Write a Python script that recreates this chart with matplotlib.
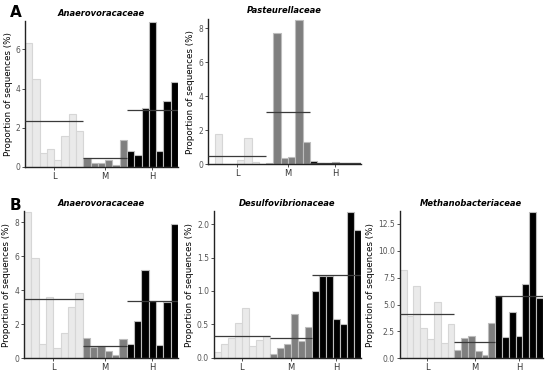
import matplotlib.pyplot as plt

# group sizes: L, M, H
groups = ["L", "M", "H"]
n_per_group = [8, 6, 7]

# panel A
anaero_a = [6.3, 4.5, 0.7, 0.9, 0.35, 1.6, 2.7, 1.85,
            0.45, 0.22, 0.18, 0.35, 0.12, 1.4,
            0.8, 0.6, 3.0, 7.4, 0.8, 3.35, 4.35]
pasteur_a = [0.05, 1.8, 0.02, 0.02, 0.25, 1.55, 0.12, 0.05,
             0.08, 7.7, 0.35, 0.42, 8.5, 1.3,
             0.18, 0.08, 0.05, 0.15, 0.1, 0.08, 0.08]

# panel B
anaero_b = [8.6, 5.9, 0.8, 3.6, 0.6, 1.5, 3.0, 3.8,
            1.2, 0.65, 0.7, 0.4, 0.2, 1.1,
            0.85, 2.15, 5.2, 3.35, 0.75, 3.3, 7.9]
desulfo_b = [0.08, 0.2, 0.3, 0.52, 0.74, 0.18, 0.27, 0.32,
             0.05, 0.14, 0.2, 0.66, 0.25, 0.46,
             1.0, 1.23, 1.23, 0.58, 0.51, 2.18, 1.92]
methano_b = [8.2, 3.9, 6.75, 2.85, 1.8, 5.2, 1.4, 3.2,
             0.8, 1.85, 2.1, 0.65, 0.3, 3.3,
             5.75, 1.95, 4.3, 2.05, 6.9, 13.6, 5.6]

# group means (horizontal lines)
means_anaero_a = [2.35, 0.45, 2.9]
means_pasteur_a = [0.5, 3.05, 0.1]
means_anaero_b = [3.45, 0.7, 3.35]
means_desulfo_b = [0.33, 0.29, 1.24]
means_methano_b = [4.15, 1.5, 5.75]

colores = ["#eaeaea", "#7f7f7f", "#000000"]
bordes = ["#d6d6d6", "#bdbdbd", "#bdbdbd"]

paneles = [
    ("Anaerovoracaceae", anaero_a, means_anaero_a, [0, 2, 4, 6], "{:.0f}",
     [0.0455, 0.55, 0.278, 0.393]),
    ("Pasteurellaceae", pasteur_a, means_pasteur_a, [0, 2, 4, 6, 8], "{:.0f}",
     [0.378, 0.557, 0.278, 0.392]),
    ("Anaerovoracaceae", anaero_b, means_anaero_b, [0, 2, 4, 6, 8], "{:.0f}",
     [0.0436, 0.035, 0.28, 0.396]),
    ("Desulfovibrionaceae", desulfo_b, means_desulfo_b, [0, 0.5, 1.0, 1.5, 2.0], "{:.1f}",
     [0.389, 0.036, 0.267, 0.394]),
    ("Methanobacteriaceae", methano_b, means_methano_b, [0, 2.5, 5.0, 7.5, 10.0, 12.5], "{:.1f}",
     [0.727, 0.034, 0.26, 0.397]),
]

fig = plt.figure(figsize=(5.5, 3.71), dpi=100)

for titulo, valores, medias, yticks, fmt, pos in paneles:
    ax = fig.add_axes(pos)
    x = 0
    centros = []
    for g, n in enumerate(n_per_group):
        xs = list(range(x, x + n))
        ax.bar(xs, valores[x:x + n], width=1.0, color=colores[g],
               edgecolor=bordes[g], linewidth=0.8)
        ax.hlines(medias[g], x - 0.5, x + n - 0.5, color="#3a3a3a", linewidth=0.9, zorder=3)
        centros.append(x + (n - 1) / 2)
        x += n
    ax.set_xlim(-0.5, x - 0.5)
    ax.set_ylim(0, max(valores) * 1.005)
    ax.set_xticks(centros)
    ax.set_xticklabels(groups, fontsize=6, color="#333333")
    ax.set_yticks(yticks)
    ax.set_yticklabels([fmt.format(t) for t in yticks], fontsize=5.5, color="#555555")
    ax.tick_params(length=2, width=0.6, pad=1.5, colors="#333333")
    ax.tick_params(axis="y", labelcolor="#555555")
    for s in ["top", "right"]:
        ax.spines[s].set_visible(False)
    for s in ["left", "bottom"]:
        ax.spines[s].set_linewidth(1.0)
        ax.spines[s].set_color("#222222")
    ax.set_ylabel("Proportion of sequences (%)", fontsize=6.3, labelpad=2)
    ax.set_title(titulo, fontsize=6, fontstyle="italic", fontweight="semibold", pad=4)

fig.text(0.018, 0.965, "A", fontsize=11, fontweight="bold", va="center")
fig.text(0.018, 0.447, "B", fontsize=11, fontweight="bold", va="center")

fig.savefig("out.png", dpi=100)
